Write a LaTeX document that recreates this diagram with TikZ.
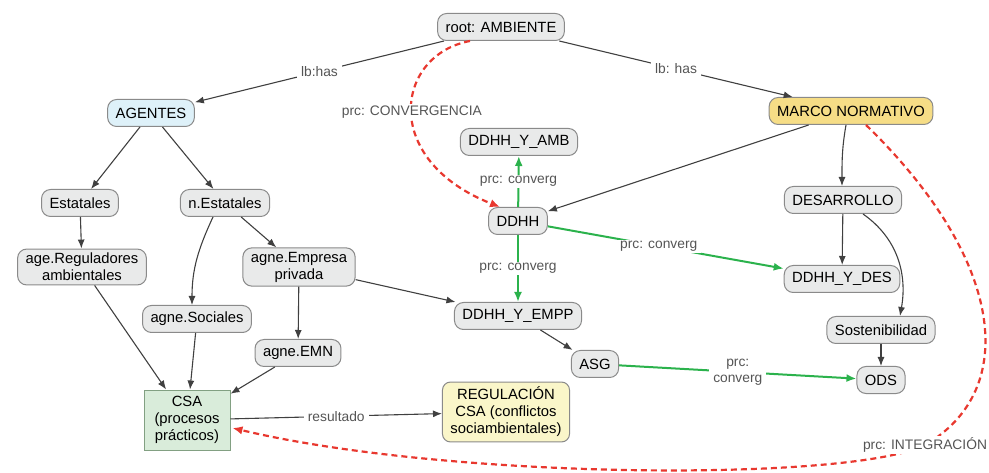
\documentclass[tikz,border=0pt]{standalone}
\usepackage{fontspec}
\setmainfont{Liberation Sans}
\usetikzlibrary{arrows.meta, calc}
\definecolor{grisnodo}{RGB}{233,234,234}
\definecolor{grisborde}{RGB}{138,138,138}
\definecolor{celeste}{RGB}{222,241,249}
\definecolor{oro}{RGB}{246,221,134}
\definecolor{crema}{RGB}{250,246,201}
\definecolor{verdeclaro}{RGB}{217,236,218}
\definecolor{verdeborde}{RGB}{130,160,130}
\definecolor{verdeflecha}{RGB}{43,178,76}
\definecolor{rojoflecha}{RGB}{232,56,47}
\definecolor{oscuro}{RGB}{64,64,64}
\definecolor{textolb}{RGB}{85,85,85}

\begin{document}
\begin{tikzpicture}[x=1pt, y=-1pt,
        concepto/.style={rectangle, rounded corners=9pt, draw=grisborde, fill=grisnodo,
                         line width=1pt, inner xsep=8pt, inner ysep=4pt, minimum height=27pt,
                         align=center, font=\fontsize{14.8}{17}\selectfont},
        caja/.style={rectangle, draw=verdeborde, fill=verdeclaro, line width=1pt,
                     minimum width=86pt, minimum height=60pt, align=center,
                     font=\fontsize{14.8}{17}\selectfont},
        lbl/.style={fill=white, text=textolb, inner xsep=4pt, inner ysep=1.5pt, align=center,
                    font=\fontsize{13.8}{16}\selectfont},
        rel/.style={-{Latex[length=9pt, width=7pt]}, line width=1.1pt, oscuro},
        conv/.style={-{Latex[length=10pt, width=8pt]}, line width=2pt, verdeflecha},
        integ/.style={-{Latex[length=10pt, width=8.5pt]}, line width=2.2pt, rojoflecha,
                      dash pattern=on 6pt off 4pt}
    ]
        \useasboundingbox (0,0) rectangle (989,473);

        % conceptos
        \node[concepto] (root) at (501,27) {root: AMBIENTE};
        \node[concepto, fill=celeste] (agentes) at (151,113) {AGENTES};
        \node[concepto, fill=oro] (marco) at (851,111) {MARCO NORMATIVO};
        \node[concepto] (ddhhamb) at (519,142) {DDHH\_Y\_AMB};
        \node[concepto] (est) at (80,203) {Estatales};
        \node[concepto] (nest) at (225,203) {n.Estatales};
        \node[concepto] (ddhh) at (518,221) {DDHH};
        \node[concepto] (desa) at (843,200) {DESARROLLO};
        \node[concepto] (regul) at (82,267) {age.Reguladores\\ambientales};
        \node[concepto] (empresa) at (299,267) {agne.Empresa\\privada};
        \node[concepto] (ddhhdes) at (842,279) {DDHH\_Y\_DES};
        \node[concepto] (sociales) at (197,319) {agne.Sociales};
        \node[concepto] (ddhhempp) at (518,316) {DDHH\_Y\_EMPP};
        \node[concepto] (sost) at (881,330) {Sostenibilidad};
        \node[concepto] (emn) at (298,353) {agne.EMN};
        \node[concepto] (asg) at (595,364) {ASG};
        \node[concepto] (ods) at (881,380) {ODS};
        \node[caja] (csa) at (187,420) {CSA\\(procesos\\prácticos)};
        \node[concepto, fill=crema, rounded corners=8pt, inner ysep=5pt] (regcsa) at (506,412)
            {REGULACIÓN\\CSA (conflictos\\sociambientales)};

        % relaciones
        \draw[rel] (root) -- node[lbl] {lb:has} (agentes);
        \draw[rel] (root) -- node[lbl] {lb: has} (marco);
        \draw[rel] (marco) -- (ddhh);
        \draw[rel] ($(marco.south)+(-5,0)$) to[out=-100, in=90] ($(desa.north)+(-1,0)$);
        \draw[rel] ($(desa.south)+(20,0)$) to[out=-35, in=80] ($(sost.north)+(19,0)$);
        \foreach \a/\b in {desa/ddhhdes, sost/ods, agentes/est, agentes/nest, est/regul,
                           nest/empresa, regul/csa, sociales/csa, emn/csa, empresa/emn,
                           empresa/ddhhempp, ddhhempp/asg}
            \draw[rel] (\a) -- (\b);
        \draw[rel] ($(nest.south)+(-12,0)$) to[out=-115, in=90] ($(sociales.north)+(-5,0)$);
        \draw[rel] (csa) -- node[lbl] {resultado} (regcsa);

        % convergencias
        \draw[conv] (ddhh) -- node[lbl] {prc: converg} (ddhhamb);
        \draw[conv] (ddhh) -- node[lbl] {prc: converg} (ddhhempp);
        \draw[conv] (ddhh) -- node[lbl, pos=0.47] {prc: converg} (ddhhdes);
        \draw[conv] (asg) -- node[lbl] {prc:\\converg} (ods);

        % integracion
        \draw[integ] ($(root.south)+(-31,0)$) .. controls (395,55) and (380,160)
            .. node[lbl] {prc: CONVERGENCIA} ($(ddhh.north)+(-18,0)$);
        \draw[integ] ($(marco.south)+(15,0)$) .. controls (1005,260) and (1020,390)
            .. (925,445) node[lbl] {prc: INTEGRACIÓN}
            .. controls (850,482) and (450,480) .. ($(csa.east)+(2,8)$);
    \end{tikzpicture}
\end{document}
